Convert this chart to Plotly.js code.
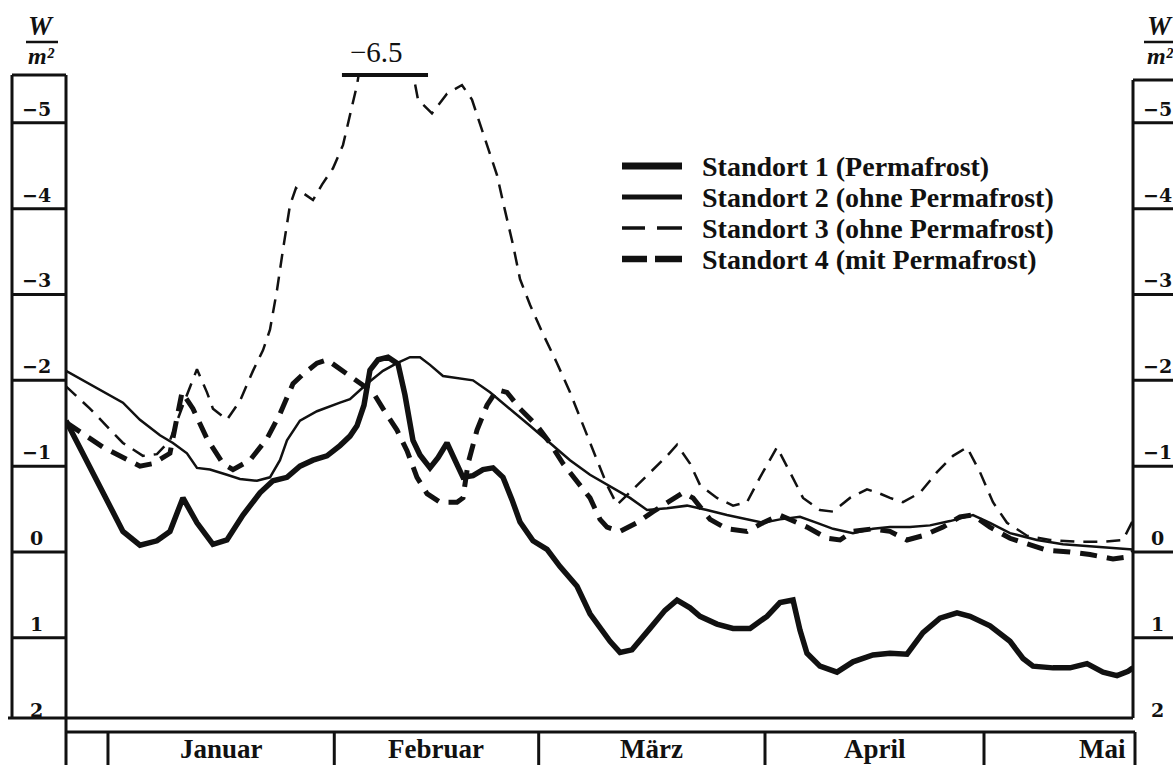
<!DOCTYPE html>
<html><head><meta charset="utf-8">
<script src="https://cdn.plot.ly/plotly-3.0.1.min.js"></script>
<style>html,body{margin:0;padding:0;background:#fff;} #chart{width:1173px;height:765px;}</style>
</head><body><div id="chart"></div>
<script>
// ---- data (x = days since 1 January, y = W/m²) ----
const months = ['Januar', 'Februar', 'März', 'April', 'Mai'];
const monthStartDays = [0, 31, 59, 90, 120];
const monthDays = [31, 28, 31, 30, 31];
const yTickValues = [-5, -4, -3, -2, -1, 0, 1, 2];
const yTickLabels = ['−5', '−4', '−3', '−2', '−1', '0', '1', '2'];
const seriesNames = ['Standort 1 (Permafrost)', 'Standort 2 (ohne Permafrost)', 'Standort 3 (ohne Permafrost)', 'Standort 4 (mit Permafrost)'];
const peakLabel = '−6.5';

const s1Days = [-5.75,-0.68,2.05,4.38,6.71,8.49,10.27,12.19,14.38,16.30,18.49,20.82,22.60,24.52,26.30,28.08,30.00,31.78,33.15,34.11,35.07,35.89,36.99,38.36,39.73,40.68,41.78,42.74,44.11,45.21,46.44,47.53,48.63,50.00,51.37,52.74,54.11,55.34,56.44,58.22,60.14,61.92,64.25,66.03,67.40,68.77,70.14,71.78,74.25,76.30,77.95,79.73,81.10,83.42,85.62,87.95,90.27,92.05,93.84,94.79,95.75,97.53,99.86,102.05,104.79,107.12,109.45,111.64,113.97,116.30,118.08,120.82,123.56,125.34,126.71,129.45,131.78,134.11,136.30,138.22,139.73,140.41];
const s1Vals = [-1.53,-0.69,-0.24,-0.08,-0.13,-0.24,-0.63,-0.34,-0.09,-0.14,-0.43,-0.69,-0.83,-0.87,-1.00,-1.07,-1.12,-1.24,-1.35,-1.47,-1.71,-2.12,-2.24,-2.27,-2.19,-1.83,-1.30,-1.13,-0.98,-1.10,-1.27,-1.07,-0.87,-0.89,-0.96,-0.98,-0.87,-0.61,-0.35,-0.13,-0.03,0.17,0.40,0.72,0.89,1.04,1.17,1.14,0.89,0.68,0.56,0.65,0.75,0.84,0.89,0.89,0.75,0.59,0.56,0.91,1.18,1.33,1.40,1.28,1.20,1.18,1.19,0.94,0.77,0.71,0.75,0.86,1.04,1.24,1.33,1.35,1.35,1.30,1.40,1.44,1.39,1.35];

const s2Days = [-5.75,-2.05,2.05,4.38,7.12,8.90,10.82,12.19,13.97,16.30,18.08,20.41,22.19,23.56,24.52,26.30,28.63,31.78,33.15,35.48,37.67,39.59,41.37,42.74,44.11,45.89,47.81,50.00,52.33,55.07,57.81,60.55,63.29,66.03,68.77,71.51,73.84,76.58,79.32,82.05,84.79,87.53,89.73,92.05,94.79,97.12,99.32,102.05,104.79,107.12,109.86,112.60,115.34,118.49,120.82,123.56,127.26,130.82,134.52,138.22,140.41];
const s2Vals = [-2.11,-1.93,-1.74,-1.54,-1.36,-1.27,-1.15,-0.98,-0.96,-0.90,-0.85,-0.83,-0.87,-1.07,-1.30,-1.53,-1.64,-1.74,-1.78,-1.96,-2.11,-2.20,-2.27,-2.27,-2.18,-2.05,-2.03,-2.00,-1.86,-1.67,-1.47,-1.27,-1.07,-0.90,-0.76,-0.63,-0.49,-0.51,-0.54,-0.49,-0.43,-0.38,-0.34,-0.38,-0.41,-0.34,-0.27,-0.22,-0.27,-0.29,-0.29,-0.31,-0.36,-0.43,-0.34,-0.22,-0.14,-0.09,-0.07,-0.05,-0.03];

const s3Days = [-5.75,-2.47,2.05,4.79,6.71,8.49,10.27,12.19,13.56,14.38,16.30,18.08,19.86,21.23,22.19,23.15,23.97,24.93,25.75,26.99,28.08,29.32,30.82,32.19,33.15,34.11,36.16,39.73,42.47,44.38,46.44,48.49,49.86,51.64,53.29,54.38,55.48,56.44,57.81,59.59,61.51,63.29,65.07,66.99,68.36,69.73,71.92,74.25,76.58,77.95,79.73,81.10,83.42,85.62,87.53,89.32,91.64,93.42,95.21,97.53,99.32,101.64,103.97,105.75,107.12,108.90,111.23,113.56,115.75,117.67,119.45,121.23,123.15,125.89,129.04,132.74,136.30,139.04,140.00,140.41];
const s3Vals = [-1.93,-1.67,-1.27,-1.12,-1.14,-1.30,-1.71,-2.13,-1.86,-1.67,-1.54,-1.76,-2.11,-2.35,-2.59,-3.05,-3.52,-4.04,-4.24,-4.16,-4.10,-4.28,-4.47,-4.74,-5.09,-5.44,-6.50,-6.50,-5.27,-5.11,-5.34,-5.44,-5.27,-4.80,-4.39,-3.98,-3.58,-3.18,-2.88,-2.54,-2.20,-1.86,-1.47,-1.07,-0.78,-0.55,-0.73,-0.93,-1.12,-1.25,-1.03,-0.78,-0.63,-0.54,-0.58,-0.87,-1.22,-0.93,-0.63,-0.49,-0.47,-0.63,-0.73,-0.68,-0.63,-0.58,-0.69,-0.93,-1.12,-1.22,-0.93,-0.58,-0.34,-0.19,-0.14,-0.12,-0.12,-0.14,-0.29,-0.37];

const s4Days = [-5.75,-0.68,4.38,6.16,8.49,10.14,11.64,13.56,15.75,17.12,19.45,21.78,23.56,25.34,26.71,28.63,30.00,31.78,34.11,36.30,37.67,39.59,40.96,42.33,43.70,45.48,47.81,48.63,49.32,50.55,51.92,53.29,54.66,56.44,58.77,60.55,62.33,64.25,66.03,67.40,68.36,70.14,72.47,74.66,78.77,80.14,82.47,84.79,87.53,89.73,92.05,95.75,98.49,100.27,102.05,104.79,107.12,109.45,111.64,114.38,116.71,118.49,120.82,123.56,125.89,128.63,131.78,134.52,137.67,139.59,140.41];
const s4Vals = [-1.51,-1.22,-1.00,-1.03,-1.15,-1.86,-1.67,-1.32,-1.03,-0.96,-1.07,-1.32,-1.61,-1.96,-2.07,-2.20,-2.24,-2.13,-2.00,-1.86,-1.67,-1.42,-1.18,-0.87,-0.68,-0.58,-0.58,-0.63,-1.03,-1.42,-1.71,-1.89,-1.86,-1.67,-1.47,-1.27,-1.03,-0.83,-0.63,-0.38,-0.29,-0.24,-0.34,-0.47,-0.69,-0.63,-0.38,-0.27,-0.24,-0.34,-0.43,-0.29,-0.16,-0.14,-0.24,-0.27,-0.24,-0.14,-0.19,-0.29,-0.41,-0.43,-0.29,-0.16,-0.09,-0.02,0.00,0.03,0.08,0.06,0.00];

// ---- geometry ----
const W = 1173, H = 765;
const M = {l: 66, r: 40, t: 75, b: 47};
const PW = W - M.l - M.r, PH = H - M.t - M.b;
const X_RANGE = [-5.75, 140.41];
const Y_RANGE = [1.934, -5.557];   // reversed: negative values upwards
const INK = '#111111';
const SERIF = '"Liberation Serif", "Times New Roman", serif';
const SLAB = '"DejaVu Serif", "Liberation Serif", serif';

const px2x = px => (px - M.l) / PW;           // pixel -> paper x
const py2y = py => (H - M.b - py) / PH;       // pixel -> paper y
const v2y = v => (Y_RANGE[0] - v) / (Y_RANGE[0] - Y_RANGE[1]); // value -> paper y

const traces = [
  {x: s1Days, y: s1Vals, name: seriesNames[0], mode: 'lines', line: {color: INK, width: 5.5, dash: 'solid'}},
  {x: s2Days, y: s2Vals, name: seriesNames[1], mode: 'lines', line: {color: INK, width: 2.5, dash: 'solid'}},
  {x: s3Days, y: s3Vals, name: seriesNames[2], mode: 'lines', line: {color: INK, width: 2.5, dash: '14px,9px'}},
  {x: s4Days, y: s4Vals, name: seriesNames[3], mode: 'lines', line: {color: INK, width: 5, dash: '17px,10px'}}
];

const shapes = [];
const annotations = [];
const ln = (x0, y0, x1, y1, w, xref) => shapes.push({type: 'line', xref: xref || 'paper', yref: 'paper', x0, y0, x1, y1, line: {color: INK, width: w || 3}});

// left scale box
const LBX = px2x(12);
ln(LBX, 0, LBX, 1); ln(LBX, 1, 0, 1);
ln(0, 1, 0, py2y(765));                 // left axis line down into month table
ln(px2x(8), 0, 1, 0);                   // bottom axis line
// right scale box
const RTOP = py2y(80);
ln(1, 0, 1, RTOP); ln(1, RTOP, px2x(1190), RTOP);
yTickValues.forEach((v, i) => {
  if (v <= 1) {
    ln(LBX, v2y(v), 0, v2y(v));
    ln(1, v2y(v), px2x(1190), v2y(v));
  }
  annotations.push({xref: 'paper', yref: 'paper', x: px2x(36), y: v2y(v), yshift: 14, text: '<b>' + yTickLabels[i] + '</b>', showarrow: false, xanchor: 'center', yanchor: 'middle', font: {family: SLAB, size: 19, color: INK}});
  annotations.push({xref: 'paper', yref: 'paper', x: px2x(1157), y: v2y(v), yshift: 14, text: '<b>' + yTickLabels[i] + '</b>', showarrow: false, xanchor: 'center', yanchor: 'middle', font: {family: SLAB, size: 19, color: INK}});
});

// unit labels W/m²
[[41, 26, 58], [1160, 1144, 1185]].forEach(([cx, a, b]) => {
  ln(px2x(a), py2y(42), px2x(b), py2y(42), 2.5);
  annotations.push({xref: 'paper', yref: 'paper', x: px2x(cx), y: py2y(26), text: '<b><i>W</i></b>', showarrow: false, xanchor: 'center', yanchor: 'middle', font: {family: SERIF, size: 27, color: INK}});
  annotations.push({xref: 'paper', yref: 'paper', x: px2x(cx), y: py2y(56), text: '<b><i>m²</i></b>', showarrow: false, xanchor: 'center', yanchor: 'middle', font: {family: SERIF, size: 24, color: INK}});
});

// month table
const MT = py2y(732), MB = py2y(765);
ln(0, MT, px2x(1135), MT);
ln(px2x(1135), MT, px2x(1135), MB);
monthStartDays.forEach(d => ln(d, MT, d, MB, 3, 'x'));
months.forEach((m, i) => {
  const last = i === months.length - 1;
  annotations.push({
    xref: last ? 'paper' : 'x', yref: 'paper',
    x: last ? px2x(1128) : monthStartDays[i] + monthDays[i] / 2,
    y: py2y(749), text: '<b>' + m + '</b>', showarrow: false,
    xanchor: last ? 'right' : 'center', yanchor: 'middle',
    font: {family: SERIF, size: 27, color: INK}
  });
});

// clipped peak marker
ln(32.05, 1, 43.84, 1, 4, 'x');
annotations.push({xref: 'paper', yref: 'paper', x: px2x(376), y: py2y(52), text: peakLabel, showarrow: false, xanchor: 'center', yanchor: 'middle', font: {family: SERIF, size: 29, color: INK}});

// legend (drawn by hand: long line samples)
const legRows = [166, 197, 228, 259];
const LX0 = px2x(622), LX1 = px2x(682);
ln(LX0, py2y(legRows[0]), LX1, py2y(legRows[0]), 7);
ln(LX0, py2y(legRows[1]), LX1, py2y(legRows[1]), 5);
ln(LX0, py2y(legRows[2]), px2x(645), py2y(legRows[2]), 3.5);
ln(px2x(657), py2y(legRows[2]), LX1, py2y(legRows[2]), 3.5);
ln(LX0, py2y(legRows[3]), px2x(647), py2y(legRows[3]), 6.5);
ln(px2x(655), py2y(legRows[3]), LX1, py2y(legRows[3]), 6.5);
seriesNames.forEach((n, i) => annotations.push({xref: 'paper', yref: 'paper', x: px2x(700), y: py2y(legRows[i]), text: '<b>' + n + '</b>', showarrow: false, xanchor: 'left', yanchor: 'middle', font: {family: SERIF, size: 28, color: INK}}));

const axisCommon = {showgrid: false, zeroline: false, showticklabels: false, ticks: '', showline: false, fixedrange: true};
const layout = {
  width: W, height: H,
  margin: {l: M.l, r: M.r, t: M.t, b: M.b, pad: 0},
  paper_bgcolor: '#ffffff', plot_bgcolor: '#ffffff',
  showlegend: false,
  xaxis: Object.assign({range: X_RANGE}, axisCommon),
  yaxis: Object.assign({range: Y_RANGE}, axisCommon),
  shapes, annotations
};
Plotly.newPlot('chart', traces, layout, {staticPlot: true, displayModeBar: false});
</script></body></html>
